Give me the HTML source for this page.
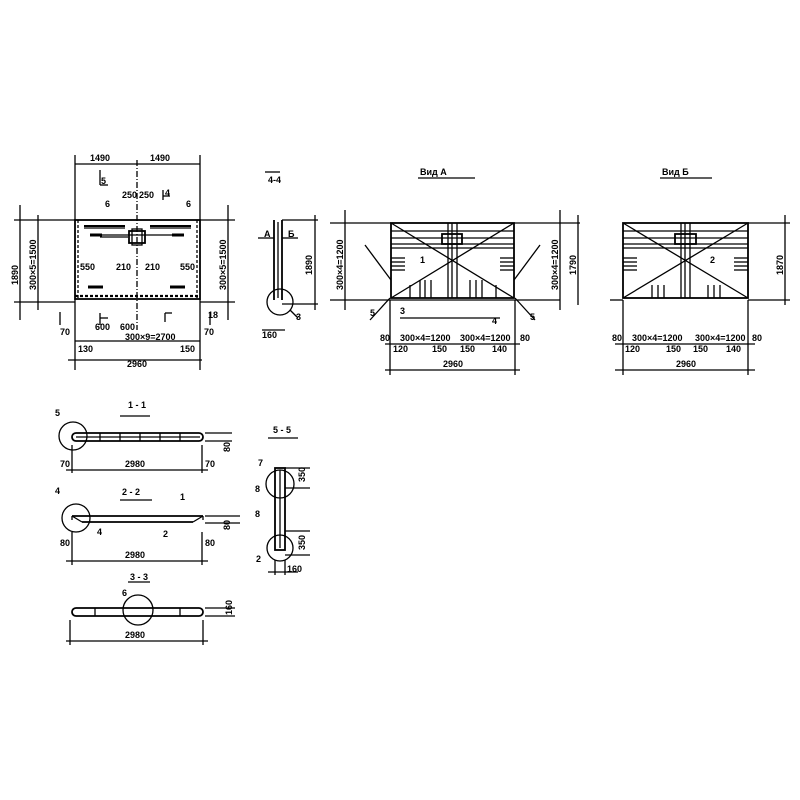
<!DOCTYPE html>
<html><head><meta charset="utf-8"><style>
html,body{margin:0;padding:0;background:#fff}
svg{display:block}
text{font-family:"Liberation Sans",sans-serif;font-size:9px;fill:#000;font-weight:bold}
</style></head><body>
<svg width="800" height="800" viewBox="0 0 800 800" xmlns="http://www.w3.org/2000/svg">
<g stroke="#000" stroke-width="1.3" fill="none">
<!-- PLAN -->
<rect x="75" y="220" width="125" height="79" stroke-width="1.8"/>
<line x1="75" y1="296" x2="200" y2="296" stroke-dasharray="3,2" stroke-width="2.2"/>
<line x1="78" y1="220" x2="78" y2="299" stroke-dasharray="3,2"/>
<line x1="197" y1="220" x2="197" y2="299" stroke-dasharray="3,2"/>
<line x1="137" y1="160" x2="137" y2="330" stroke-dasharray="6,2,1,2"/>
<line x1="84" y1="226" x2="125" y2="226" stroke-width="2"/>
<line x1="84" y1="228" x2="125" y2="228"/>
<line x1="150" y1="226" x2="191" y2="226" stroke-width="2"/>
<line x1="150" y1="228" x2="191" y2="228"/>
<rect x="129" y="231" width="16" height="12" stroke-width="1.8"/>
<rect x="132" y="229" width="10" height="16"/>
<line x1="90" y1="235" x2="180" y2="235"/>
<line x1="100" y1="237" x2="128" y2="237"/>
<line x1="75" y1="299" x2="75" y2="370"/>
<line x1="200" y1="299" x2="200" y2="370"/>
<line x1="75" y1="155" x2="75" y2="220"/>
<line x1="200" y1="155" x2="200" y2="220"/>
<line x1="75" y1="164" x2="200" y2="164"/>
<line x1="75" y1="341" x2="200" y2="341"/>
<line x1="68" y1="360" x2="202" y2="360"/>
<line x1="14" y1="220" x2="75" y2="220"/>
<line x1="14" y1="302" x2="75" y2="302"/>
<line x1="20" y1="205" x2="20" y2="320"/>
<line x1="38" y1="215" x2="38" y2="310"/>
<line x1="200" y1="220" x2="235" y2="220"/>
<line x1="200" y1="302" x2="235" y2="302"/>
<line x1="228" y1="205" x2="228" y2="320"/>
<line x1="100" y1="170" x2="100" y2="185"/><line x1="100" y1="185" x2="108" y2="185"/>
<line x1="100" y1="313" x2="100" y2="325"/><line x1="100" y1="318" x2="108" y2="318"/>
<line x1="163" y1="190" x2="163" y2="200"/><line x1="163" y1="196" x2="170" y2="196"/>
<line x1="165" y1="313" x2="165" y2="322"/><line x1="165" y1="313" x2="172" y2="313"/>
<line x1="60" y1="312" x2="60" y2="325"/><line x1="210" y1="312" x2="210" y2="325"/>
<line x1="88" y1="287" x2="103" y2="287" stroke-width="3"/>
<line x1="170" y1="287" x2="185" y2="287" stroke-width="3"/>
<line x1="90" y1="235" x2="102" y2="235" stroke-width="3"/>
<line x1="172" y1="235" x2="184" y2="235" stroke-width="3"/>
<!-- 4-4 -->
<line x1="274" y1="220" x2="274" y2="300" stroke-width="1.8"/>
<line x1="282" y1="220" x2="282" y2="300" stroke-width="1.8"/>
<line x1="278" y1="222" x2="278" y2="298"/>
<circle cx="280" cy="302" r="13"/>
<line x1="282" y1="220" x2="318" y2="220"/>
<line x1="282" y1="304" x2="318" y2="304"/>
<line x1="315" y1="215" x2="315" y2="310"/>
<line x1="258" y1="238" x2="274" y2="238"/>
<line x1="282" y1="238" x2="298" y2="238"/>
<line x1="262" y1="330" x2="285" y2="330"/>
<line x1="290" y1="310" x2="298" y2="318"/>
<line x1="265" y1="172" x2="280" y2="172"/>
<!-- VIEW A -->
<rect x="391" y="223" width="123" height="75" stroke-width="1.8"/>
<line x1="391" y1="223" x2="514" y2="298"/>
<line x1="514" y1="223" x2="391" y2="298"/>
<line x1="391" y1="231" x2="514" y2="231"/><line x1="391" y1="238" x2="514" y2="238"/>
<line x1="391" y1="244" x2="514" y2="244"/><line x1="391" y1="248" x2="514" y2="248"/>
<line x1="448" y1="223" x2="448" y2="298"/><line x1="452" y1="223" x2="452" y2="298"/><line x1="457" y1="223" x2="457" y2="298"/>
<rect x="442" y="234" width="20" height="10" stroke-width="1.8"/>
<line x1="391" y1="258" x2="405" y2="258"/><line x1="391" y1="262" x2="405" y2="262"/><line x1="391" y1="266" x2="405" y2="266"/><line x1="391" y1="270" x2="405" y2="270"/>
<line x1="500" y1="258" x2="514" y2="258"/><line x1="500" y1="262" x2="514" y2="262"/><line x1="500" y1="266" x2="514" y2="266"/><line x1="500" y1="270" x2="514" y2="270"/>
<line x1="410" y1="285" x2="410" y2="298"/><line x1="420" y1="280" x2="420" y2="298"/><line x1="425" y1="280" x2="425" y2="298"/><line x1="431" y1="280" x2="431" y2="298"/>
<line x1="470" y1="280" x2="470" y2="298"/><line x1="476" y1="280" x2="476" y2="298"/><line x1="482" y1="280" x2="482" y2="298"/><line x1="496" y1="285" x2="496" y2="298"/>
<line x1="330" y1="300" x2="560" y2="300"/>
<line x1="330" y1="223" x2="391" y2="223"/><line x1="514" y1="223" x2="580" y2="223"/>
<line x1="345" y1="210" x2="345" y2="310"/><line x1="560" y1="210" x2="560" y2="310"/><line x1="578" y1="215" x2="578" y2="305"/>
<line x1="390" y1="298" x2="370" y2="320"/><line x1="515" y1="298" x2="535" y2="320"/>
<line x1="400" y1="318" x2="500" y2="318"/>
<line x1="390" y1="300" x2="390" y2="375"/><line x1="515" y1="300" x2="515" y2="375"/>
<line x1="385" y1="344" x2="520" y2="344"/><line x1="385" y1="370" x2="520" y2="370"/>
<line x1="365" y1="245" x2="391" y2="280"/><line x1="540" y1="245" x2="514" y2="280"/>
<!-- VIEW B -->
<rect x="623" y="223" width="125" height="75" stroke-width="1.8"/>
<line x1="623" y1="223" x2="748" y2="298"/>
<line x1="748" y1="223" x2="623" y2="298"/>
<line x1="623" y1="231" x2="748" y2="231"/><line x1="623" y1="238" x2="748" y2="238"/>
<line x1="623" y1="244" x2="748" y2="244"/><line x1="623" y1="248" x2="748" y2="248"/>
<line x1="681" y1="223" x2="681" y2="298"/><line x1="685" y1="223" x2="685" y2="298"/><line x1="690" y1="223" x2="690" y2="298"/>
<rect x="675" y="234" width="21" height="10" stroke-width="1.8"/>
<line x1="623" y1="258" x2="637" y2="258"/><line x1="623" y1="262" x2="637" y2="262"/><line x1="623" y1="266" x2="637" y2="266"/><line x1="623" y1="270" x2="637" y2="270"/>
<line x1="734" y1="258" x2="748" y2="258"/><line x1="734" y1="262" x2="748" y2="262"/><line x1="734" y1="266" x2="748" y2="266"/><line x1="734" y1="270" x2="748" y2="270"/>
<line x1="652" y1="285" x2="652" y2="298"/><line x1="658" y1="285" x2="658" y2="298"/><line x1="664" y1="285" x2="664" y2="298"/>
<line x1="708" y1="285" x2="708" y2="298"/><line x1="714" y1="285" x2="714" y2="298"/><line x1="720" y1="285" x2="720" y2="298"/>
<line x1="748" y1="223" x2="790" y2="223"/><line x1="748" y1="300" x2="790" y2="300"/><line x1="785" y1="215" x2="785" y2="305"/>
<line x1="623" y1="300" x2="623" y2="375"/><line x1="748" y1="300" x2="748" y2="375"/>
<line x1="615" y1="344" x2="755" y2="344"/><line x1="615" y1="370" x2="755" y2="370"/>
<line x1="610" y1="300" x2="623" y2="300"/>
<!-- 1-1 -->
<rect x="72" y="433" width="131" height="8" rx="4" stroke-width="1.8"/>
<line x1="76" y1="437" x2="200" y2="437"/>
<line x1="100" y1="433" x2="100" y2="441"/><line x1="120" y1="433" x2="120" y2="441"/><line x1="140" y1="433" x2="140" y2="441"/><line x1="160" y1="433" x2="160" y2="441"/><line x1="180" y1="433" x2="180" y2="441"/>
<circle cx="73" cy="436" r="14"/>
<line x1="72" y1="445" x2="72" y2="473"/><line x1="202" y1="445" x2="202" y2="473"/>
<line x1="66" y1="470" x2="208" y2="470"/>
<line x1="205" y1="433" x2="232" y2="433"/><line x1="205" y1="441" x2="232" y2="441"/>
<line x1="120" y1="416" x2="150" y2="416"/>
<!-- 2-2 -->
<line x1="72" y1="516" x2="203" y2="516" stroke-width="1.8"/>
<line x1="82" y1="522" x2="193" y2="522" stroke-width="1.8"/>
<line x1="72" y1="516" x2="82" y2="522"/><line x1="203" y1="516" x2="193" y2="522"/>
<line x1="72" y1="516" x2="72" y2="520"/><line x1="203" y1="516" x2="203" y2="520"/>
<circle cx="76" cy="518" r="14"/>
<line x1="72" y1="532" x2="72" y2="565"/><line x1="202" y1="532" x2="202" y2="565"/>
<line x1="66" y1="561" x2="208" y2="561"/>
<line x1="205" y1="516" x2="240" y2="516"/><line x1="205" y1="523" x2="240" y2="523"/>
<line x1="120" y1="500" x2="152" y2="500"/>
<!-- 3-3 -->
<rect x="72" y="608" width="131" height="8" rx="4" stroke-width="1.8"/>
<line x1="95" y1="608" x2="95" y2="616"/><line x1="180" y1="608" x2="180" y2="616"/>
<circle cx="138" cy="610" r="15"/>
<line x1="70" y1="620" x2="70" y2="645"/><line x1="203" y1="620" x2="203" y2="645"/>
<line x1="66" y1="641" x2="208" y2="641"/>
<line x1="205" y1="608" x2="235" y2="608"/><line x1="205" y1="616" x2="235" y2="616"/>
<line x1="128" y1="582" x2="150" y2="582"/>
<!-- 5-5 -->
<rect x="275" y="468" width="10" height="82" stroke-width="1.8"/>
<line x1="280" y1="470" x2="280" y2="548"/>
<circle cx="280" cy="484" r="14"/>
<circle cx="280" cy="548" r="13"/>
<line x1="285" y1="468" x2="310" y2="468"/><line x1="285" y1="488" x2="310" y2="488"/>
<line x1="285" y1="531" x2="310" y2="531"/><line x1="285" y1="555" x2="310" y2="555"/>
<line x1="275" y1="560" x2="275" y2="575"/><line x1="285" y1="560" x2="285" y2="575"/>
<line x1="268" y1="572" x2="298" y2="572"/>
<line x1="268" y1="438" x2="298" y2="438"/>
<line x1="418" y1="178" x2="475" y2="178"/>
<line x1="660" y1="178" x2="712" y2="178"/>
</g>
<g>
<text x="90" y="161">1490</text><text x="150" y="161">1490</text>
<text x="101" y="184" font-size="12">5</text><text x="165" y="196" font-size="11">4</text>
<text x="122" y="198" font-size="8">250</text><text x="139" y="198" font-size="8">250</text>
<text x="105" y="207">6</text><text x="186" y="207">6</text>
<text x="125" y="340">300×9=2700</text>
<text x="127" y="367">2960</text>
<text x="95" y="330">600</text><text x="120" y="330">600</text>
<text x="208" y="318">18</text>
<text x="60" y="335" font-size="8">70</text><text x="204" y="335" font-size="8">70</text>
<text x="78" y="352" font-size="8">130</text><text x="180" y="352" font-size="8">150</text>
<text x="116" y="270" font-size="8">210</text><text x="145" y="270" font-size="8">210</text>
<text x="80" y="270" font-size="8">550</text><text x="180" y="270" font-size="8">550</text>
<text x="268" y="183" font-size="11">4-4</text>
<text x="264" y="237">А</text><text x="288" y="237">Б</text>
<text x="262" y="338" font-size="8">160</text>
<text x="296" y="320" font-size="8">3</text>
<text x="420" y="175" font-size="12">Вид А</text>
<text x="662" y="175" font-size="12">Вид Б</text>
<text x="420" y="263">1</text><text x="710" y="263">2</text>
<text x="370" y="316">5</text><text x="530" y="320">5</text>
<text x="400" y="314">3</text><text x="492" y="324">4</text>
<text x="400" y="341" font-size="8">300×4=1200</text><text x="460" y="341" font-size="8">300×4=1200</text>
<text x="632" y="341" font-size="8">300×4=1200</text><text x="695" y="341" font-size="8">300×4=1200</text>
<text x="380" y="341" font-size="8">80</text><text x="520" y="341" font-size="8">80</text>
<text x="612" y="341" font-size="8">80</text><text x="752" y="341" font-size="8">80</text>
<text x="393" y="352" font-size="8">120</text><text x="432" y="352" font-size="8">150</text><text x="460" y="352" font-size="8">150</text><text x="492" y="352" font-size="8">140</text>
<text x="625" y="352" font-size="8">120</text><text x="666" y="352" font-size="8">150</text><text x="693" y="352" font-size="8">150</text><text x="726" y="352" font-size="8">140</text>
<text x="443" y="367">2960</text><text x="676" y="367">2960</text>
<text x="128" y="408" font-size="11">1 - 1</text>
<text x="55" y="416">5</text>
<text x="125" y="467">2980</text>
<text x="60" y="467" font-size="8">70</text><text x="205" y="467" font-size="8">70</text>
<text x="122" y="495" font-size="11">2 - 2</text>
<text x="55" y="494">4</text><text x="97" y="535">4</text><text x="180" y="500">1</text><text x="163" y="537">2</text>
<text x="125" y="558">2980</text>
<text x="60" y="546" font-size="8">80</text><text x="205" y="546" font-size="8">80</text>
<text x="130" y="580" font-size="11">3 - 3</text>
<text x="122" y="596">6</text>
<text x="125" y="638">2980</text>
<text x="273" y="433" font-size="11">5 - 5</text>
<text x="258" y="466">7</text><text x="255" y="492">8</text><text x="255" y="517">8</text><text x="256" y="562">2</text>
<text x="287" y="572" font-size="8">160</text>
<text transform="translate(18,285) rotate(-90)">1890</text>
<text transform="translate(36,290) rotate(-90)" font-size="8">300×5=1500</text>
<text transform="translate(226,290) rotate(-90)" font-size="8">300×5=1500</text>
<text transform="translate(312,275) rotate(-90)">1890</text>
<text transform="translate(343,290) rotate(-90)" font-size="8">300×4=1200</text>
<text transform="translate(558,290) rotate(-90)" font-size="8">300×4=1200</text>
<text transform="translate(576,275) rotate(-90)" font-size="8">1790</text>
<text transform="translate(783,275) rotate(-90)">1870</text>
<text transform="translate(230,452) rotate(-90)" font-size="7">80</text>
<text transform="translate(230,530) rotate(-90)" font-size="7">80</text>
<text transform="translate(232,615) rotate(-90)" font-size="7">160</text>
<text transform="translate(305,482) rotate(-90)" font-size="7">350</text>
<text transform="translate(305,550) rotate(-90)" font-size="7">350</text>
</g>
</svg>
</body></html>
